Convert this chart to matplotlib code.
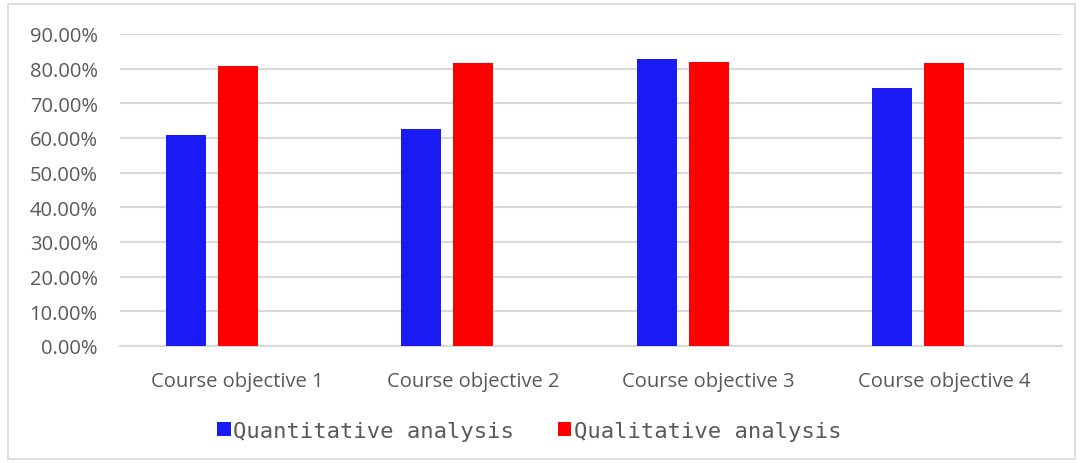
import numpy as np
import matplotlib.pyplot as plt
from matplotlib.patches import Rectangle
from matplotlib.ticker import FuncFormatter

categories = ["Course objective 1", "Course objective 2", "Course objective 3", "Course objective 4"]
quantitative = [0.609, 0.627, 0.827, 0.743]
qualitative = [0.807, 0.815, 0.819, 0.815]

fig = plt.figure(figsize=(10.8, 4.64), dpi=100)
fig.patches.append(Rectangle((8 / 1080, 4 / 464), 1067 / 1080, 455 / 464,
                             transform=fig.transFigure, fill=False,
                             edgecolor="#d9d9d9", linewidth=1.2))

ax = fig.add_axes([120 / 1080, 1 - 347 / 464, 942 / 1080, 312 / 464])

x = np.arange(len(categories))
w = 0.17
off = 0.221
ax.bar(x - off, quantitative, w, color="#1a1af5", label="Quantitative analysis", zorder=3)
ax.bar(x, qualitative, w, color="#ff0000", label="Qualitative analysis", zorder=3)

ax.set_xlim(-0.5, len(categories) - 0.5)
ax.set_ylim(0, 0.9)
ax.set_yticks(np.arange(0, 0.91, 0.1))
ax.yaxis.set_major_formatter(FuncFormatter(lambda v, p: f"{v * 100:.2f}%"))
ax.set_xticks(x)
ax.set_xticklabels(categories)
ax.grid(axis="y", color="#d9d9d9", linewidth=1.5, zorder=0)
for s in ["top", "right", "left"]:
    ax.spines[s].set_visible(False)
ax.spines["bottom"].set_color("#d9d9d9")
ax.spines["bottom"].set_linewidth(1.5)
ax.tick_params(axis="both", length=0, colors="#595959", labelsize=14.5)
ax.tick_params(axis="y", pad=16)
ax.tick_params(axis="x", pad=18)
for lab in ax.get_xticklabels() + ax.get_yticklabels():
    lab.set_fontfamily("Open Sans")

leg = fig.legend(loc="center", bbox_to_anchor=(0.49, 1 - 432 / 464), ncol=2, frameon=False,
                 prop={"family": "DejaVu Sans Mono", "size": 16},
                 handlelength=0.6, handleheight=0.6, handletextpad=0.1, columnspacing=2.0)
for t in leg.get_texts():
    t.set_color("#595959")

fig.savefig("out.png", dpi=100)
